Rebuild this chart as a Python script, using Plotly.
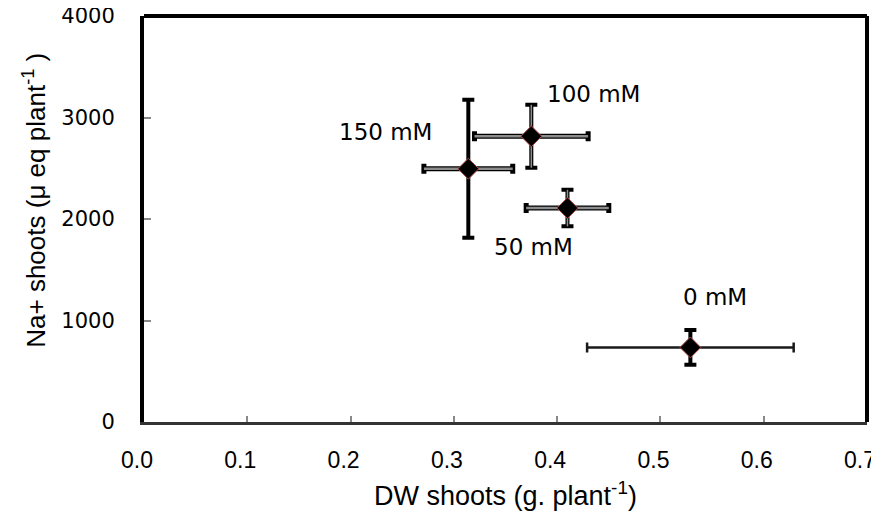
import plotly.graph_objects as go

labels = ["150 mM", "100 mM", "50 mM", "0 mM"]
dw = [0.314, 0.375, 0.410, 0.529]
dw_err = [0.043, 0.055, 0.040, 0.100]
na = [2495, 2815, 2108, 735]
na_err = [680, 310, 180, 172]

x_ticks = [0.0, 0.1, 0.2, 0.3, 0.4, 0.5, 0.6, 0.7]
x_ticktext = ["0.0", "0.1", "0.2", "0.3", "0.4", "0.5", "0.6", "0.7"]
y_ticks = [0, 1000, 2000, 3000, 4000]
y_ticktext = ["0", "1000", "2000", "3000", "4000"]

x_title = "DW shoots (g. plant<sup>-1</sup>)"
y_title = "Na+ shoots (μ eq plant<sup>-1</sup> )"

# label positions (data units)
lab_x = [0.234, 0.435, 0.377, 0.553]
lab_y = [2860, 3230, 1720, 1230]

fig = go.Figure()
nomark = dict(size=1, color="rgba(0,0,0,0)")

# horizontal bars: black outline + gray core (150, 100, 50 mM)
fig.add_trace(go.Scatter(x=dw[:3], y=na[:3], mode="markers", marker=nomark,
    error_x=dict(type="data", array=dw_err[:3], color="black", thickness=5, width=5),
    hoverinfo="skip", showlegend=False))
fig.add_trace(go.Scatter(x=dw[:3], y=na[:3], mode="markers", marker=nomark,
    error_x=dict(type="data", array=dw_err[:3], color="#8c8c8c", thickness=2.5, width=0),
    hoverinfo="skip", showlegend=False))
# 0 mM horizontal bar: thin dark
fig.add_trace(go.Scatter(x=dw[3:], y=na[3:], mode="markers", marker=nomark,
    error_x=dict(type="data", array=dw_err[3:], color="#1a1a1a", thickness=2.5, width=5),
    hoverinfo="skip", showlegend=False))
# vertical bars
fig.add_trace(go.Scatter(x=dw, y=na, mode="markers", marker=nomark,
    error_y=dict(type="data", array=na_err, color="black", thickness=4, width=6),
    hoverinfo="skip", showlegend=False))
fig.add_trace(go.Scatter(x=dw[1:3], y=na[1:3], mode="markers", marker=nomark,
    error_y=dict(type="data", array=na_err[1:3], color="#8c8c8c", thickness=1.5, width=0),
    hoverinfo="skip", showlegend=False))
# markers
fig.add_trace(go.Scatter(x=dw, y=na, mode="markers",
    marker=dict(symbol="diamond", size=16, color="black", line=dict(color="#b04848", width=1)),
    hoverinfo="skip", showlegend=False))

for i, t in enumerate(labels):
    fig.add_annotation(x=lab_x[i], y=lab_y[i], text=t, showarrow=False,
                       font=dict(family="DejaVu Sans", size=23, color="black"))

# axis titles
fig.add_annotation(xref="paper", yref="paper", x=0.5, y=0, yshift=-72, yanchor="middle",
                   xanchor="center", text=x_title, showarrow=False,
                   font=dict(family="Liberation Sans", size=27, color="black"))
fig.add_annotation(xref="paper", yref="paper", x=0, y=0.545, xshift=-109, xanchor="center",
                   yanchor="middle", text=y_title, textangle=-90, showarrow=False,
                   font=dict(family="Liberation Sans", size=26, color="black"))

# frame (top, right)
fig.add_shape(type="line", xref="paper", yref="paper", x0=0, x1=1, y0=1, y1=1,
              line=dict(color="black", width=4))
fig.add_shape(type="line", xref="paper", yref="paper", x0=1, x1=1, y0=0, y1=1,
              line=dict(color="black", width=4))

fig.update_layout(
    width=871, height=510,
    margin=dict(l=136, r=12, t=8, b=96, autoexpand=False),
    paper_bgcolor="white", plot_bgcolor="white",
    xaxis=dict(range=[0, 0.7], tickvals=x_ticks, ticktext=x_ticktext, automargin=False,
               showgrid=False, zeroline=False, showline=True, linecolor="#333333", linewidth=3,
               ticks="inside", ticklen=6, tickcolor="#888888", tickwidth=1.5,
               ticklabelstandoff=15, ticklabelshift=-7, ticklabeloverflow="allow",
               tickfont=dict(family="Liberation Sans", size=23, color="black")),
    yaxis=dict(range=[0, 4000], tickvals=y_ticks, ticktext=y_ticktext, automargin=False,
               showgrid=False, zeroline=False, showline=True, linecolor="black", linewidth=4,
               ticks="inside", ticklen=7, tickcolor="#888888", tickwidth=1.5,
               ticklabelstandoff=21, ticklabeloverflow="allow",
               tickfont=dict(family="DejaVu Sans", size=21, color="black")),
)

fig.write_html("out.html")
